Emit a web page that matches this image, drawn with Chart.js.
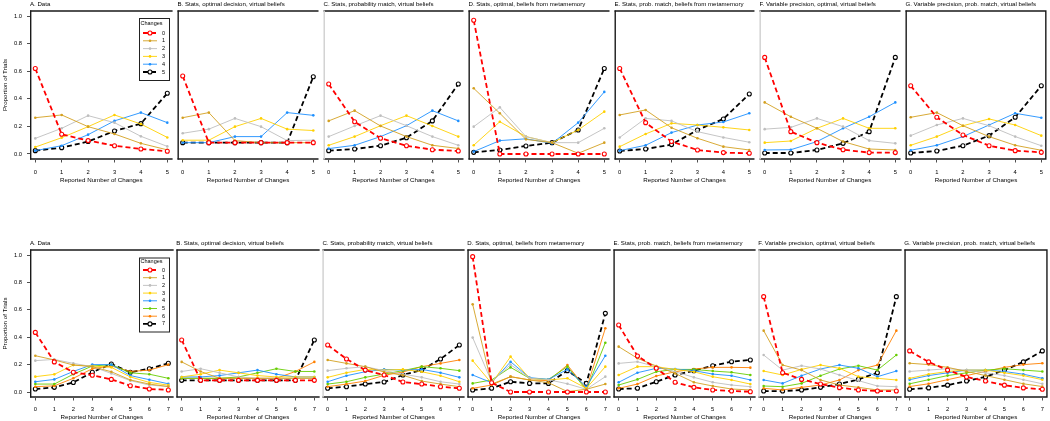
<!DOCTYPE html>
<html>
<head>
<meta charset="utf-8">
<script src="https://cdn.jsdelivr.net/npm/chart.js@4/dist/chart.umd.min.js"></script>
<style>
  body { margin: 0; background: #fff; width: 1050px; height: 421px; overflow: hidden; position: relative; }
  .panel { position: absolute; }
</style>
</head>
<body>
<script>
const topX = [0, 1, 2, 3, 4, 5];
const bottomX = [0, 1, 2, 3, 4, 5, 6, 7];
const yTicks = [0, 0.2, 0.4, 0.6, 0.8, 1.0];

const panelTitles = [
  'A. Data',
  'B. Stats, optimal decision, virtual beliefs',
  'C. Stats, probability match, virtual beliefs',
  'D. Stats, optimal, beliefs from metamemory',
  'E. Stats, prob. match, beliefs from metamemory',
  'F. Variable precision, optimal, virtual beliefs',
  'G. Variable precision, prob. match, virtual beliefs'
];

const topColors = ['#ff0000', '#d4a020', '#bebebe', '#ffd000', '#1e90ff', '#000000'];
const bottomColors = ['#ff0000', '#d4a020', '#bebebe', '#ffd000', '#1e90ff', '#66cd00', '#ff8000', '#000000'];

// top row: one line per true number of changes (0..5)
const topA = [
  [0.62, 0.143, 0.097, 0.06, 0.036, 0.02],
  [0.263, 0.283, 0.198, 0.145, 0.077, 0.03],
  [0.113, 0.186, 0.278, 0.227, 0.128, 0.055],
  [0.05, 0.118, 0.198, 0.283, 0.217, 0.12],
  [0.024, 0.06, 0.14, 0.24, 0.30, 0.227],
  [0.024, 0.046, 0.09, 0.167, 0.22, 0.44]
];
const topB = [
  [0.565, 0.082, 0.082, 0.082, 0.082, 0.082],
  [0.263, 0.30, 0.097, 0.082, 0.082, 0.082],
  [0.15, 0.18, 0.258, 0.198, 0.097, 0.1],
  [0.1, 0.1, 0.198, 0.258, 0.18, 0.17],
  [0.082, 0.082, 0.126, 0.126, 0.30, 0.28],
  [0.082, 0.082, 0.082, 0.082, 0.082, 0.56]
];
const topC = [
  [0.507, 0.234, 0.114, 0.06, 0.031, 0.022],
  [0.24, 0.314, 0.203, 0.126, 0.063, 0.04],
  [0.126, 0.203, 0.278, 0.205, 0.126, 0.063],
  [0.063, 0.126, 0.205, 0.278, 0.203, 0.126],
  [0.039, 0.063, 0.126, 0.205, 0.314, 0.24],
  [0.024, 0.036, 0.06, 0.118, 0.24, 0.507]
];
const topD = [
  [0.97, 0.0, 0.0, 0.0, 0.0, 0.0],
  [0.476, 0.295, 0.106, 0.082, 0.005, 0.082],
  [0.198, 0.338, 0.126, 0.082, 0.082, 0.186],
  [0.063, 0.234, 0.126, 0.082, 0.174, 0.307],
  [0.017, 0.097, 0.11, 0.077, 0.227, 0.45],
  [0.012, 0.029, 0.058, 0.082, 0.174, 0.62]
];
const topE = [
  [0.62, 0.227, 0.09, 0.029, 0.01, 0.005],
  [0.283, 0.319, 0.19, 0.114, 0.053, 0.029],
  [0.12, 0.258, 0.24, 0.162, 0.12, 0.085],
  [0.053, 0.145, 0.222, 0.21, 0.193, 0.174],
  [0.024, 0.063, 0.155, 0.21, 0.232, 0.295],
  [0.022, 0.036, 0.068, 0.174, 0.254, 0.435]
];
const topF = [
  [0.70, 0.162, 0.082, 0.031, 0.01, 0.01],
  [0.374, 0.27, 0.186, 0.09, 0.036, 0.029],
  [0.18, 0.193, 0.258, 0.198, 0.097, 0.077],
  [0.082, 0.094, 0.186, 0.258, 0.186, 0.186],
  [0.029, 0.031, 0.09, 0.186, 0.27, 0.374],
  [0.007, 0.007, 0.029, 0.077, 0.162, 0.70]
];
const topG = [
  [0.495, 0.266, 0.138, 0.06, 0.024, 0.012],
  [0.266, 0.30, 0.205, 0.126, 0.063, 0.027],
  [0.133, 0.21, 0.258, 0.205, 0.126, 0.06],
  [0.063, 0.126, 0.205, 0.254, 0.21, 0.133],
  [0.027, 0.063, 0.126, 0.21, 0.295, 0.263],
  [0.007, 0.022, 0.06, 0.133, 0.266, 0.495]
];

// bottom row: 0..7 changes
const bottomA = [
  [0.435, 0.22, 0.144, 0.122, 0.092, 0.046, 0.022, 0.015],
  [0.265, 0.234, 0.197, 0.185, 0.148, 0.088, 0.058, 0.04],
  [0.229, 0.238, 0.209, 0.185, 0.136, 0.083, 0.051, 0.04],
  [0.112, 0.129, 0.197, 0.19, 0.18, 0.11, 0.07, 0.05],
  [0.075, 0.092, 0.15, 0.2, 0.2, 0.12, 0.09, 0.06],
  [0.058, 0.058, 0.13, 0.19, 0.2, 0.14, 0.13, 0.1],
  [0.039, 0.045, 0.1, 0.17, 0.19, 0.15, 0.16, 0.2],
  [0.022, 0.034, 0.07, 0.144, 0.205, 0.144, 0.17, 0.21]
];
const bottomB = [
  [0.38, 0.085, 0.085, 0.085, 0.085, 0.085, 0.085, 0.085],
  [0.22, 0.15, 0.1, 0.1, 0.1, 0.1, 0.1, 0.1],
  [0.15, 0.17, 0.14, 0.11, 0.1, 0.1, 0.1, 0.1],
  [0.11, 0.13, 0.16, 0.14, 0.12, 0.11, 0.11, 0.11],
  [0.11, 0.11, 0.12, 0.14, 0.16, 0.13, 0.11, 0.11],
  [0.1, 0.1, 0.1, 0.11, 0.14, 0.17, 0.15, 0.15],
  [0.1, 0.1, 0.1, 0.1, 0.1, 0.1, 0.15, 0.22],
  [0.085, 0.085, 0.085, 0.085, 0.085, 0.085, 0.085, 0.38]
];
const bottomC = [
  [0.343, 0.241, 0.16, 0.124, 0.073, 0.058, 0.039, 0.027],
  [0.234, 0.209, 0.185, 0.146, 0.122, 0.08, 0.058, 0.039],
  [0.156, 0.173, 0.185, 0.156, 0.131, 0.107, 0.075, 0.058],
  [0.107, 0.141, 0.165, 0.16, 0.165, 0.148, 0.119, 0.075],
  [0.075, 0.119, 0.148, 0.165, 0.16, 0.165, 0.141, 0.107],
  [0.058, 0.075, 0.107, 0.131, 0.156, 0.185, 0.173, 0.156],
  [0.039, 0.058, 0.08, 0.122, 0.146, 0.185, 0.209, 0.234],
  [0.027, 0.039, 0.058, 0.073, 0.124, 0.16, 0.241, 0.343]
];
const bottomD = [
  [0.988, 0.068, 0, 0, 0, 0, 0, 0],
  [0.64, 0.058, 0.112, 0.088, 0.068, 0.003, 0.02, 0.058],
  [0.397, 0.075, 0.2, 0.1, 0.09, 0.06, 0.02, 0.112],
  [0.229, 0.063, 0.258, 0.1, 0.088, 0.1, 0.027, 0.185],
  [0.124, 0.068, 0.221, 0.105, 0.092, 0.165, 0.039, 0.265],
  [0.063, 0.088, 0.18, 0.1, 0.092, 0.185, 0.015, 0.36],
  [0.027, 0.051, 0.112, 0.088, 0.083, 0.197, 0.022, 0.465],
  [0.015, 0.027, 0.075, 0.063, 0.063, 0.156, 0.063, 0.574]
];
const bottomE = [
  [0.489, 0.263, 0.173, 0.071, 0.034, 0.015, 0.007, 0.002],
  [0.331, 0.246, 0.19, 0.136, 0.071, 0.044, 0.022, 0.015],
  [0.209, 0.221, 0.185, 0.148, 0.107, 0.071, 0.051, 0.039],
  [0.124, 0.185, 0.185, 0.165, 0.148, 0.112, 0.088, 0.058],
  [0.071, 0.141, 0.173, 0.168, 0.156, 0.131, 0.119, 0.088],
  [0.051, 0.092, 0.148, 0.165, 0.165, 0.153, 0.144, 0.124],
  [0.027, 0.058, 0.117, 0.148, 0.168, 0.18, 0.18, 0.178],
  [0.022, 0.027, 0.075, 0.124, 0.156, 0.192, 0.221, 0.234]
];
const bottomF = [
  [0.696, 0.141, 0.092, 0.058, 0.032, 0.015, 0.007, 0.007],
  [0.448, 0.197, 0.16, 0.088, 0.051, 0.034, 0.015, 0.015],
  [0.27, 0.16, 0.192, 0.168, 0.124, 0.083, 0.044, 0.039],
  [0.153, 0.124, 0.165, 0.197, 0.173, 0.112, 0.1, 0.088],
  [0.088, 0.063, 0.119, 0.168, 0.197, 0.173, 0.112, 0.153],
  [0.044, 0.039, 0.063, 0.119, 0.168, 0.192, 0.16, 0.27],
  [0.027, 0.015, 0.034, 0.051, 0.088, 0.16, 0.197, 0.448],
  [0.007, 0.007, 0.015, 0.034, 0.058, 0.092, 0.141, 0.696]
];
const bottomG = [
  [0.30, 0.22, 0.16, 0.11, 0.08, 0.05, 0.03, 0.02],
  [0.21, 0.2, 0.18, 0.15, 0.12, 0.09, 0.06, 0.04],
  [0.15, 0.16, 0.17, 0.16, 0.14, 0.12, 0.09, 0.06],
  [0.1, 0.13, 0.15, 0.16, 0.16, 0.14, 0.12, 0.09],
  [0.09, 0.12, 0.14, 0.16, 0.16, 0.15, 0.13, 0.1],
  [0.06, 0.09, 0.12, 0.14, 0.16, 0.17, 0.16, 0.15],
  [0.04, 0.06, 0.09, 0.12, 0.15, 0.18, 0.2, 0.21],
  [0.02, 0.03, 0.05, 0.08, 0.11, 0.16, 0.22, 0.30]
];

const topPanels = [topA, topB, topC, topD, topE, topF, topG];
const bottomPanels = [bottomA, bottomB, bottomC, bottomD, bottomE, bottomF, bottomG];

const panelLeft = [30, 175, 321, 466, 612, 757, 903, 1048];
const lightLeft = [false, false, true, false, false, true, false];
const FONT = "'Liberation Sans', Arial, sans-serif";

// box round every panel, R style
const framePlugin = {
  id: 'frame',
  afterDraw(chart, args, opts) {
    const { ctx, chartArea: a } = chart;
    ctx.save();
    ctx.lineWidth = 1.4;
    ctx.strokeStyle = '#1a1a1a';
    ctx.beginPath();
    ctx.moveTo(a.left, a.top + 0.5);
    ctx.lineTo(a.right, a.top + 0.5);
    ctx.moveTo(a.left, a.bottom - 0.5);
    ctx.lineTo(a.right, a.bottom - 0.5);
    if (opts.right) {
      ctx.moveTo(a.right - 0.7, a.top);
      ctx.lineTo(a.right - 0.7, a.bottom);
    }
    ctx.stroke();
    ctx.beginPath();
    ctx.strokeStyle = opts.light ? '#d0d0d0' : '#1a1a1a';
    ctx.moveTo(a.left + 0.7, a.top);
    ctx.lineTo(a.left + 0.7, a.bottom);
    ctx.stroke();
    ctx.restore();
  }
};

// "Changes" legend inside panel A
const legendPlugin = {
  id: 'changesLegend',
  afterDraw(chart, args, opts) {
    if (!opts.show) return;
    const ctx = chart.ctx;
    ctx.save();
    ctx.fillStyle = '#fff';
    ctx.fillRect(opts.x, opts.y, opts.w, opts.h);
    ctx.lineWidth = 1;
    ctx.strokeStyle = '#222';
    ctx.strokeRect(opts.x + 0.5, opts.y + 0.5, opts.w, opts.h);
    ctx.fillStyle = '#000';
    ctx.font = '5.5px ' + FONT;
    ctx.textBaseline = 'middle';
    ctx.textAlign = 'left';
    ctx.fillText('Changes', opts.x + 1.5, opts.titleY);
    chart.data.datasets.forEach((ds, i) => {
      const yy = opts.first + i * opts.step;
      ctx.strokeStyle = ds.borderColor;
      ctx.lineWidth = ds.borderWidth;
      ctx.setLineDash(ds.borderDash || []);
      ctx.beginPath();
      ctx.moveTo(opts.x + 4, yy);
      ctx.lineTo(opts.x + 18, yy);
      ctx.stroke();
      ctx.setLineDash([]);
      ctx.beginPath();
      ctx.arc(opts.x + 11, yy, ds.pointRadius, 0, Math.PI * 2);
      ctx.fillStyle = ds.pointBackgroundColor;
      ctx.fill();
      if (ds.pointBorderWidth) {
        ctx.lineWidth = ds.pointBorderWidth;
        ctx.strokeStyle = ds.pointBorderColor;
        ctx.stroke();
      }
      ctx.fillStyle = '#000';
      ctx.fillText(ds.label, opts.x + 23, yy);
    });
    ctx.restore();
  }
};

function makeDatasets(series, xs, colors) {
  const last = series.length - 1;
  return series.map((vals, i) => {
    const edge = i === 0 || i === last;
    return {
      label: String(i),
      data: vals.map((v, j) => ({ x: xs[j], y: v })),
      borderColor: colors[i],
      borderWidth: edge ? 1.8 : 0.9,
      borderDash: edge ? [5, 3] : [],
      pointRadius: edge ? 2.0 : 1.3,
      pointBackgroundColor: edge ? '#fff' : colors[i],
      pointBorderColor: colors[i],
      pointBorderWidth: edge ? 1.1 : 0,
      tension: 0
    };
  });
}

function makePanel(rowTop, rowHeight, col, series, xs, colors, legendOpts) {
  const first = col === 0;
  const left = first ? 0 : panelLeft[col];
  const plotW = panelLeft[col + 1] - panelLeft[col] + (col === 6 ? 1 : 0);
  const width = (first ? 30 : 0) + plotW;
  const div = document.createElement('div');
  div.className = 'panel';
  div.style.left = left + 'px';
  div.style.top = rowTop + 'px';
  div.style.width = width + 'px';
  div.style.height = rowHeight + 'px';
  const canvas = document.createElement('canvas');
  div.appendChild(canvas);
  document.body.appendChild(div);
  const xMax = xs[xs.length - 1];
  const pad = xMax * 0.04;

  new Chart(canvas, {
    type: 'line',
    data: { datasets: makeDatasets(series, xs, colors) },
    options: {
      responsive: true,
      maintainAspectRatio: false,
      animation: false,
      devicePixelRatio: 1,
      layout: { padding: 0, autoPadding: false },
      plugins: {
        legend: { display: false },
        tooltip: { enabled: false },
        title: {
          display: true,
          text: panelTitles[col],
          align: 'start',
          fullSize: false,
          color: '#000',
          font: { family: FONT, size: 6.1, weight: 'normal' },
          padding: { top: 0.4, bottom: 2.8 }
        },
        frame: { light: lightLeft[col], right: col === 6 },
        changesLegend: legendOpts || { show: false }
      },
      scales: {
        x: {
          type: 'linear',
          min: -pad,
          max: xMax + pad,
          afterBuildTicks: (s) => { s.ticks = xs.map(v => ({ value: v })); },
          afterFit: (s) => { s.height = rowHeight - 10.5 - (rowTop === 0 ? 149 : 148); },
          border: { display: false },
          grid: { drawOnChartArea: false, drawTicks: true, tickLength: 3, color: '#222', lineWidth: 0.8 },
          ticks: { color: '#000', font: { family: FONT, size: 5.8 }, padding: rowTop === 0 ? 6 : 5, maxRotation: 0, autoSkip: false },
          title: {
            display: true,
            text: 'Reported Number of Changes',
            color: '#000',
            font: { family: FONT, size: 6.2 },
            padding: { top: 0, bottom: 0 }
          }
        },
        y: {
          display: first,
          min: -0.04,
          max: 1.04,
          afterBuildTicks: (s) => { s.ticks = yTicks.map(v => ({ value: v })); },
          afterFit: (s) => { s.width = first ? 30 : 0; },
          border: { display: false },
          grid: { drawOnChartArea: false, drawTicks: true, tickLength: 3, color: '#222', lineWidth: 0.8 },
          ticks: { color: '#000', font: { family: FONT, size: 5.8 }, padding: 5, callback: (v) => v.toFixed(1) },
          title: {
            display: true,
            text: 'Proportion of Trials',
            color: '#000',
            font: { family: FONT, size: 6.2 },
            padding: { top: 1.3, bottom: 0 }
          }
        }
      }
    },
    plugins: [framePlugin, legendPlugin]
  });
}

const topLegend = { show: true, x: 139, y: 18, w: 30, h: 62, titleY: 23.5, first: 33, step: 7.8 };
const bottomLegend = { show: true, x: 139, y: 18.5, w: 30, h: 74, titleY: 22.5, first: 31, step: 7.7 };

topPanels.forEach((series, col) => {
  makePanel(0, 184, col, series, topX, topColors, col === 0 ? topLegend : null);
});
bottomPanels.forEach((series, col) => {
  makePanel(239, 182, col, series, bottomX, bottomColors, col === 0 ? bottomLegend : null);
});
</script>
</body>
</html>
